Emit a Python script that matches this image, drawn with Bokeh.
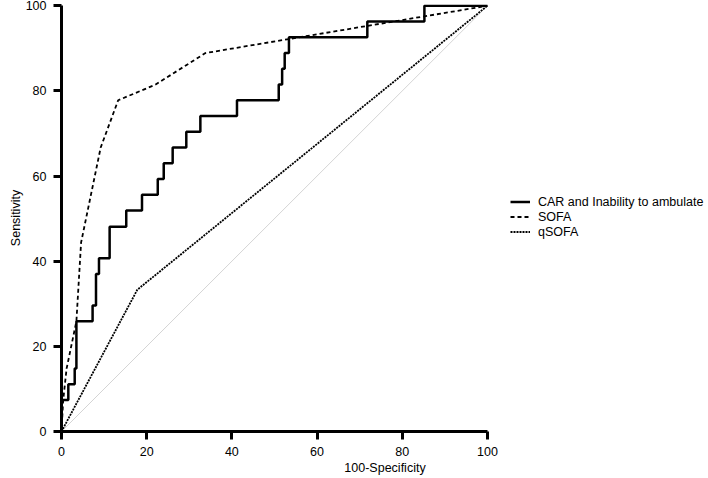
from bokeh.plotting import figure
from bokeh.models import Range1d, Legend, LegendItem
from bokeh.embed import file_html
from bokeh.resources import INLINE

# ROC data (100-Specificity, Sensitivity)
car_fpr = [0, 0, 1.6, 3.1, 3.5, 7.3, 8.1, 8.8, 11.3, 15.2, 18.9, 22.6, 24.0, 26.1,
           29.3, 32.6, 41.2, 51.0, 51.8, 52.4, 53.4, 71.8, 85.2, 100]
car_tpr = [0, 7.4, 11.1, 14.8, 25.9, 29.6, 37.0, 40.7, 48.1, 51.9, 55.6, 59.3, 63.0, 66.7,
           70.4, 74.1, 77.8, 81.5, 85.2, 88.9, 92.6, 96.3, 100, 100]

sofa_fpr = [0, 0.4, 1.2, 3.5, 4.6, 9.2, 13.3, 22.1, 33.8, 100]
sofa_tpr = [0, 7.4, 14.8, 25.9, 44.4, 66.7, 77.8, 81.5, 88.9, 100]

qsofa_fpr = [0, 17.8, 100]
qsofa_tpr = [0, 33.3, 100]

ref_x = [0, 100]
ref_y = [0, 100]

ticks = [0, 20, 40, 60, 80, 100]
labels = ["CAR and Inability to ambulate", "SOFA", "qSOFA"]

FONT = "Liberation Sans"

p = figure(width=708, height=478, x_range=Range1d(0, 151.9), y_range=Range1d(0, 100.3),
           output_backend="svg", toolbar_location=None,
           min_border_left=61, min_border_right=0, min_border_top=4, min_border_bottom=47)
p.grid.visible = False
p.outline_line_color = None
p.background_fill_color = "white"
p.border_fill_color = "white"

for ax in (p.xaxis[0], p.yaxis[0]):
    ax.ticker = ticks
    ax.bounds = (0, 100)
    ax.axis_line_width = 3
    ax.axis_line_color = "black"
    ax.major_tick_line_width = 3
    ax.major_tick_line_color = "black"
    ax.major_tick_out = 8
    ax.major_tick_in = 0
    ax.minor_tick_line_color = None
    ax.major_label_text_font = FONT
    ax.major_label_text_font_size = "12.5px"
    ax.major_label_text_color = "black"
    ax.axis_label_text_font = FONT
    ax.axis_label_text_font_size = "12.5px"
    ax.axis_label_text_font_style = "normal"
    ax.axis_label_text_color = "black"

p.xaxis.axis_label = "100-Specificity"
p.yaxis.axis_label = "Sensitivity"
p.xaxis.major_label_standoff = 7
p.yaxis.major_label_standoff = 7
p.xaxis.axis_label_standoff = 2
p.yaxis.axis_label_standoff = 0

p.line(ref_x, ref_y, line_color="#d4d4d4", line_width=1)
r_q = p.line(qsofa_fpr, qsofa_tpr, line_color="black", line_width=1.8, line_dash="2 1")
r_s = p.line(sofa_fpr, sofa_tpr, line_color="black", line_width=1.8, line_dash="4 3")
r_c = p.step(car_fpr, car_tpr, mode="after", line_color="black", line_width=2.5)

legend = Legend(items=[LegendItem(label=labels[0], renderers=[r_c]),
                       LegendItem(label=labels[1], renderers=[r_s]),
                       LegendItem(label=labels[2], renderers=[r_q])],
                location=(449, 192), orientation="vertical",
                border_line_color=None, background_fill_alpha=0,
                padding=0, spacing=0, margin=0,
                glyph_width=20, glyph_height=15, label_height=15,
                label_standoff=8, label_text_font=FONT,
                label_text_font_size="12.5px", label_text_color="black")
p.add_layout(legend, "center")

open("out.html", "w").write(file_html(p, INLINE))
